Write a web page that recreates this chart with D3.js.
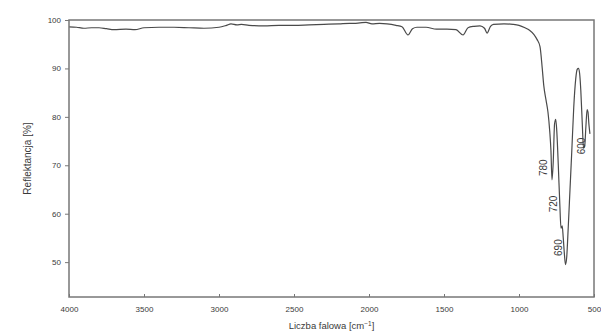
<!DOCTYPE html>
<html>
<head>
<meta charset="utf-8">
<script src="https://cdn.jsdelivr.net/npm/d3@7"></script>
<style>
  html, body { margin: 0; padding: 0; background: #fff; }
  svg { display: block; }
  text { font-family: "Liberation Sans", Arial, sans-serif; fill: #3a3a3a; }
</style>
</head>
<body>
<svg id="chart" width="601" height="334"></svg>
<script>
// Reflectance spectrum: wavenumber [cm^-1] and reflectance [%]
const wavenumber = [
  4000, 3950, 3900, 3850, 3800, 3750, 3700, 3620, 3560, 3500,
  3400, 3300, 3200, 3100, 3000, 2950, 2920, 2880, 2850, 2800,
  2700, 2600, 2500, 2400, 2300, 2200, 2130, 2100, 2060, 2020,
  1980, 1930, 1880, 1820, 1780, 1740, 1710, 1680, 1620, 1550,
  1480, 1420, 1373, 1340, 1300, 1260, 1230, 1213, 1190, 1170,
  1100, 1040, 1000, 960, 930, 900, 880, 860, 845, 835,
  820, 807, 795, 787, 780, 772, 763, 755, 748, 738,
  728, 720, 712, 705, 697, 690, 682, 672, 660, 648,
  635, 622, 612, 604, 596, 588, 578, 570, 562, 554,
  546, 540, 534, 527
];
const reflectance = [
  98.6, 98.5, 98.3, 98.4, 98.4, 98.2, 98.0, 98.1, 98.0, 98.4,
  98.5, 98.5, 98.4, 98.3, 98.5, 98.9, 99.2, 99.0, 99.1, 98.9,
  98.8, 98.9, 98.9, 99.0, 99.1, 99.2, 99.3, 99.3, 99.4, 99.5,
  99.2, 99.3, 99.2, 98.9, 98.6, 96.9, 98.2, 98.5, 98.5, 98.1,
  98.1, 98.0, 96.9, 98.4, 98.7, 98.8, 98.3, 97.3, 98.7, 99.1,
  99.2, 99.1, 98.9, 98.4, 97.9, 97.0, 96.0, 94.5, 90.0, 86.5,
  83.5, 81.0, 77.0, 73.0, 67.0, 70.5, 78.5, 79.5, 77.0, 70.0,
  62.0, 57.0, 57.5, 55.0, 51.5, 49.5, 51.0, 57.0, 65.0, 73.0,
  82.0, 87.8, 89.8, 90.0, 89.0, 85.5, 78.5, 73.5, 74.0, 78.0,
  81.5, 81.0, 78.5, 76.5
];

// Annotated bands
const bandLabels = ["780", "720", "690", "600"];
const bandWavenumber = [780, 720, 690, 600];

// Axis ticks
const xTicks = [4000, 3500, 3000, 2500, 2000, 1500, 1000, 500];
const yTicks = [50, 60, 70, 80, 90, 100];

const xTitle = "Liczba falowa [cm";
const yTitle = "Reflektancja [%]";

// Layout
const margin = { left: 69, top: 20, right: 7, bottom: 37 };
const W = 601, H = 334;
const pw = W - margin.left - margin.right;
const ph = H - margin.top - margin.bottom;

const svg = d3.select("#chart");
const g = svg.append("g").attr("transform", `translate(${margin.left},${margin.top})`);

const x = d3.scaleLinear().domain([4000, 500]).range([0, pw]);
const y = d3.scaleLinear().domain([42.8, 100]).range([ph, 0]);

// X axis: ticks pointing into the plot
const xAxis = g.append("g")
  .attr("transform", `translate(0,${ph})`)
  .call(d3.axisBottom(x).tickValues(xTicks).tickSize(-3).tickPadding(9).tickFormat(d3.format("d")));
xAxis.select(".domain").remove();
xAxis.selectAll(".tick line").attr("stroke", "#777").attr("stroke-width", 1);
xAxis.selectAll(".tick text").attr("font-size", 8).attr("fill", "#3a3a3a");

// Y axis: ticks pointing outwards
const yAxis = g.append("g")
  .call(d3.axisLeft(y).tickValues(yTicks).tickSize(4).tickPadding(4).tickFormat(d3.format("d")));
yAxis.select(".domain").remove();
yAxis.selectAll(".tick line").attr("stroke", "#777").attr("stroke-width", 1);
yAxis.selectAll(".tick text").attr("font-size", 8).attr("fill", "#3a3a3a");

// Spectrum line
const pts = wavenumber.map((w, i) => [w, reflectance[i]]);
const line = d3.line()
  .x(d => x(d[0]))
  .y(d => y(d[1]))
  .curve(d3.curveMonotoneX);

g.append("path")
  .datum(pts)
  .attr("fill", "none")
  .attr("stroke", "#4a4a4a")
  .attr("stroke-width", 1.2)
  .attr("stroke-linejoin", "round")
  .attr("d", line);

// Plot frame
g.append("rect")
  .attr("x", 0).attr("y", 0)
  .attr("width", pw).attr("height", ph)
  .attr("fill", "none")
  .attr("stroke", "#777")
  .attr("stroke-width", 1.5);

// Band labels, rotated, set beside each band: horizontal pixel offset
// from the band position and the reflectance level the label is centred on
const labelDx = [-9, -8, -7.5, 2];
const labelLevel = [69.5, 62, 53, 74];
bandLabels.forEach((lab, i) => {
  const lx = x(bandWavenumber[i]) + labelDx[i];
  const ly = y(labelLevel[i]);
  g.append("text")
    .attr("transform", `translate(${lx},${ly}) rotate(-90)`)
    .attr("text-anchor", "middle")
    .attr("dy", "0.35em")
    .attr("font-size", 10)
    .text(lab);
});

// Axis titles
const xt = svg.append("text")
  .attr("x", margin.left + pw / 2)
  .attr("y", 329)
  .attr("text-anchor", "middle")
  .attr("font-size", 9.5);
xt.append("tspan").text(xTitle);
xt.append("tspan").attr("dy", -3.5).attr("font-size", 6.5).text("−1");
xt.append("tspan").attr("dy", 3.5).text("]");

svg.append("text")
  .attr("transform", `translate(31,${margin.top + ph / 2}) rotate(-90)`)
  .attr("text-anchor", "middle")
  .attr("font-size", 10)
  .text(yTitle);
</script>
</body>
</html>
